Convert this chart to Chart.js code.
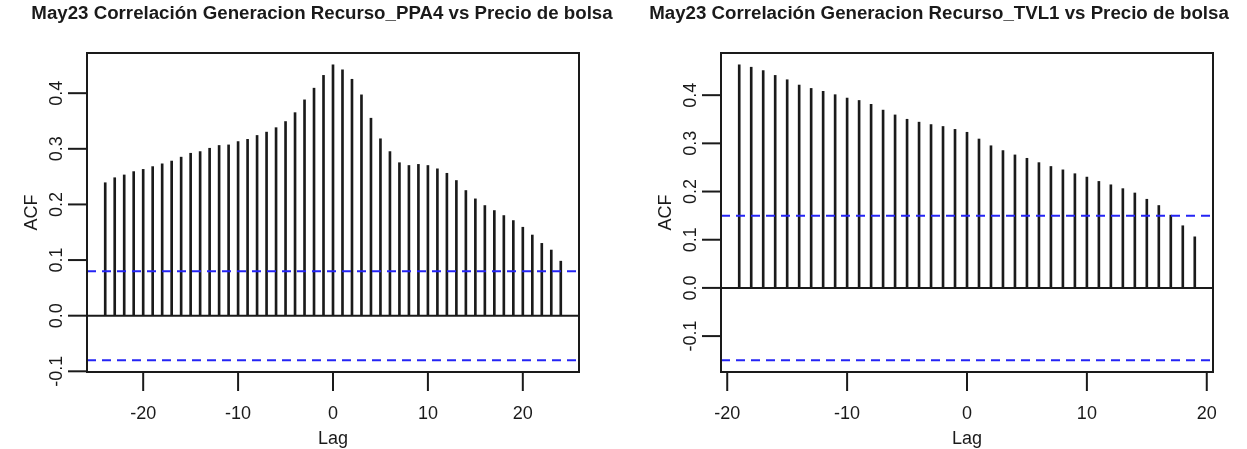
<!doctype html>
<html>
<head>
<meta charset="utf-8">
<title>May23 Correlación Generacion</title>
<style>
  body { margin: 0; background: #fff; }
  .panel { position: absolute; top: 0; height: 449px; }
</style>
</head>
<body>
  <div class="panel" style="left:0; width:624px"><canvas id="chartPPA4"></canvas></div>
  <div class="panel" style="left:624px; width:623px"><canvas id="chartTVL1"></canvas></div>
  <script src="https://cdn.jsdelivr.net/npm/chart.js@4.4.1/dist/chart.umd.min.js"></script>
  <script>
    // cross-correlation, Recurso_PPA4 vs precio de bolsa
    const ppa4Lags = [-24, -23, -22, -21, -20, -19, -18, -17, -16, -15, -14, -13, -12, -11, -10, -9, -8, -7, -6, -5, -4, -3, -2, -1,
                      0, 1, 2, 3, 4, 5, 6, 7, 8, 9, 10, 11, 12, 13, 14, 15, 16, 17, 18, 19, 20, 21, 22, 23, 24];
    const ppa4Acf = [0.239, 0.248, 0.253, 0.259, 0.263, 0.268, 0.273, 0.278, 0.285, 0.292, 0.295, 0.301, 0.306, 0.307,
                     0.313, 0.317, 0.324, 0.330, 0.338, 0.349, 0.365, 0.388, 0.409, 0.432, 0.451, 0.442, 0.425, 0.397,
                     0.355, 0.318, 0.295, 0.275, 0.270, 0.272, 0.270, 0.264, 0.256, 0.243, 0.225, 0.210, 0.198, 0.189,
                     0.180, 0.171, 0.159, 0.145, 0.130, 0.118, 0.098];
    const ppa4Clim = 0.080;

    // cross-correlation, Recurso_TVL1 vs precio de bolsa
    const tvl1Lags = [-19, -18, -17, -16, -15, -14, -13, -12, -11, -10, -9, -8, -7, -6, -5, -4, -3, -2, -1,
                      0, 1, 2, 3, 4, 5, 6, 7, 8, 9, 10, 11, 12, 13, 14, 15, 16, 17, 18, 19];
    const tvl1Acf = [0.463, 0.458, 0.451, 0.441, 0.432, 0.421, 0.414, 0.408, 0.401, 0.394, 0.389, 0.381, 0.369,
                     0.359, 0.350, 0.344, 0.339, 0.335, 0.329, 0.323, 0.309, 0.295, 0.285, 0.276, 0.269, 0.260,
                     0.252, 0.245, 0.237, 0.230, 0.221, 0.214, 0.206, 0.197, 0.184, 0.171, 0.151, 0.129, 0.106];
    const tvl1Clim = 0.150;

    const xTicks = [-20, -10, 0, 10, 20];
    const yTicks = [-0.1, 0.0, 0.1, 0.2, 0.3, 0.4];
    const yTickLabels = ['-0.1', '0.0', '0.1', '0.2', '0.3', '0.4'];

    const INK = '#1a1a1a';
    const FONT = '"Liberation Sans", Arial, sans-serif';

    // R style frame: box, outward ticks, rotated y labels, zero line and blue bounds
    const rFrame = {
      id: 'rFrame',
      afterDatasetsDraw(chart, args, opts) {
        const { ctx, chartArea: a, scales: { x, y } } = chart;
        ctx.save();
        ctx.strokeStyle = INK;
        ctx.fillStyle = INK;
        ctx.lineWidth = 2;

        // zero line
        const y0 = y.getPixelForValue(0);
        ctx.beginPath(); ctx.moveTo(a.left, y0); ctx.lineTo(a.right, y0); ctx.stroke();

        // significance bounds
        ctx.strokeStyle = '#2424f5';
        ctx.setLineDash([9, 6]);
        [opts.clim, -opts.clim].forEach(v => {
          const py = y.getPixelForValue(v);
          ctx.beginPath(); ctx.moveTo(a.left, py); ctx.lineTo(a.right, py); ctx.stroke();
        });
        ctx.setLineDash([]);
        ctx.strokeStyle = INK;

        // box
        ctx.strokeRect(a.left, a.top, a.right - a.left, a.bottom - a.top);

        // x axis
        ctx.font = '18px ' + FONT;
        ctx.textAlign = 'center';
        ctx.textBaseline = 'middle';
        xTicks.forEach(v => {
          const px = x.getPixelForValue(v);
          ctx.beginPath(); ctx.moveTo(px, a.bottom); ctx.lineTo(px, a.bottom + 19); ctx.stroke();
          ctx.fillText(String(v), px, a.bottom + 42);
        });
        ctx.fillText('Lag', (a.left + a.right) / 2, a.bottom + 67);

        // y axis
        yTicks.forEach((v, i) => {
          const py = y.getPixelForValue(v);
          ctx.beginPath(); ctx.moveTo(a.left, py); ctx.lineTo(a.left - 19, py); ctx.stroke();
          ctx.save();
          ctx.translate(a.left - 29.5, py);
          ctx.rotate(-Math.PI / 2);
          ctx.fillText(yTickLabels[i], 0, 0);
          ctx.restore();
        });
        ctx.save();
        ctx.translate(a.left - 55, (a.top + a.bottom) / 2);
        ctx.rotate(-Math.PI / 2);
        ctx.fillText('ACF', 0, 0);
        ctx.restore();

        // main title
        ctx.font = 'bold 18.7px ' + FONT;
        ctx.fillText(opts.title, opts.titleX, 14);
        ctx.restore();
      }
    };

    function acfChart(id, title, titleX, lags, acf, clim, pad) {
      // axis limits padded by 4% like base R plots
      const lo = Math.min(-clim, Math.min(...acf));
      const hi = Math.max(clim, Math.max(...acf));
      const yExt = 0.04 * (hi - lo);
      const xLo = lags[0], xHi = lags[lags.length - 1];
      const xExt = 0.04 * (xHi - xLo);

      return new Chart(document.getElementById(id), {
        type: 'bar',
        data: {
          datasets: [{
            data: lags.map((l, i) => ({ x: l, y: acf[i] })),
            backgroundColor: INK,
            borderWidth: 0,
            barThickness: 2
          }]
        },
        options: {
          responsive: true,
          maintainAspectRatio: false,
          animation: false,
          layout: { padding: pad },
          scales: {
            x: { type: 'linear', display: false, offset: false, min: xLo - xExt, max: xHi + xExt },
            y: { type: 'linear', display: false, min: lo - yExt, max: hi + yExt }
          },
          plugins: {
            legend: { display: false },
            tooltip: { enabled: false },
            rFrame: { title: title, titleX: titleX, clim: clim }
          }
        },
        plugins: [rFrame]
      });
    }

    acfChart('chartPPA4', 'May23 Correlación Generacion Recurso_PPA4 vs Precio de bolsa', 322,
             ppa4Lags, ppa4Acf, ppa4Clim, { left: 87, right: 45, top: 53, bottom: 77 });
    acfChart('chartTVL1', 'May23 Correlación Generacion Recurso_TVL1 vs Precio de bolsa', 315,
             tvl1Lags, tvl1Acf, tvl1Clim, { left: 97, right: 34, top: 53, bottom: 77 });
  </script>
</body>
</html>
